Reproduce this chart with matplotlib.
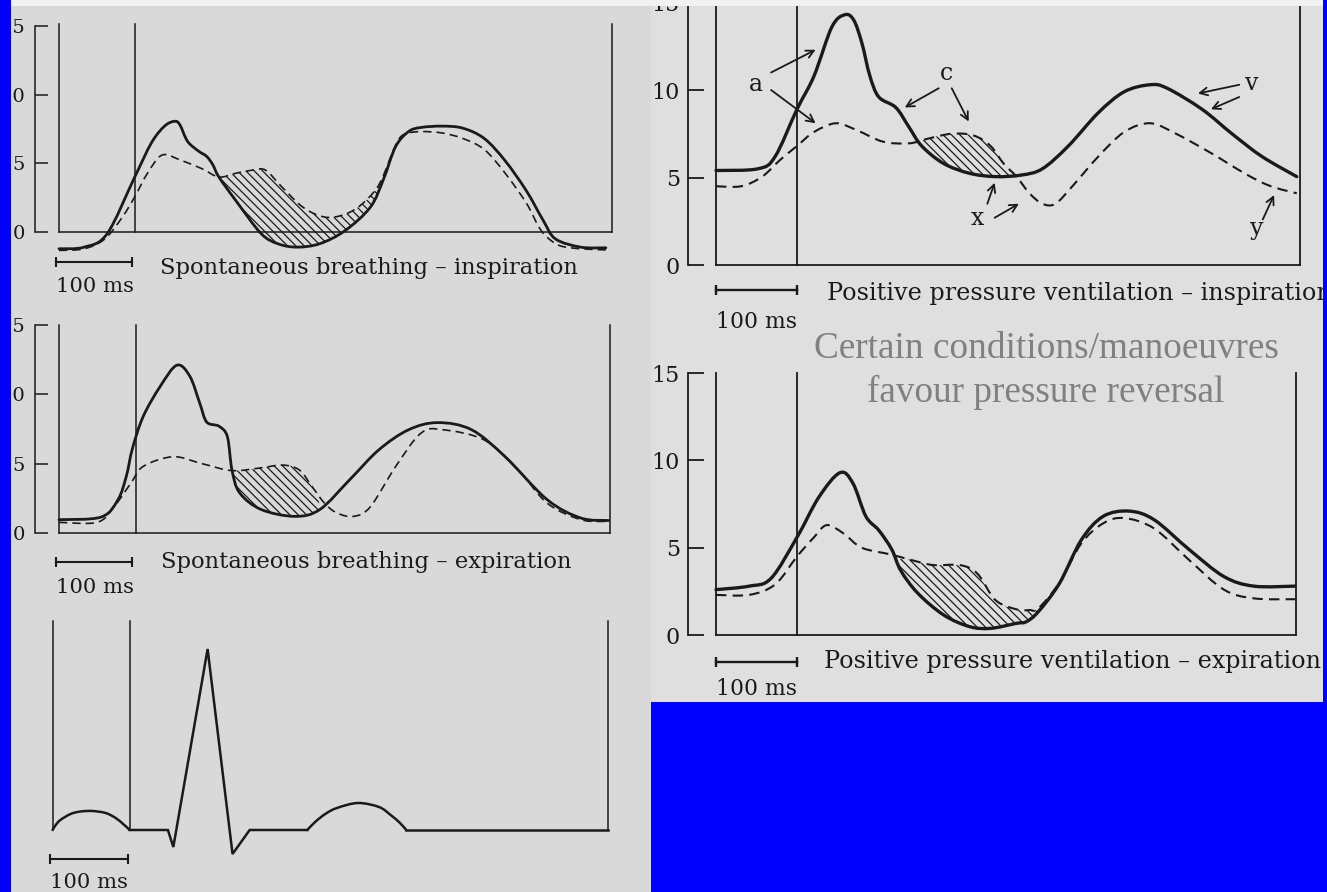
import numpy as np
import matplotlib
matplotlib.use("Agg")
import matplotlib.pyplot as plt
from matplotlib.patches import Rectangle, PathPatch
from matplotlib.path import Path

# ---------------- data (time in ms, pressure in mmHg) ----------------
# Spontaneous breathing - inspiration
sbi_solid_t = [0, 33, 63, 99, 121, 138, 151, 158, 168, 182, 193, 201, 209, 231, 264, 286, 311, 341,
               374, 407, 424, 440, 457, 473, 501, 528, 556, 583, 611, 633, 649, 682, 715]
sbi_solid_v = [-1.22, -1.1, -0.12, 4.0, 6.5, 7.7, 8.05, 7.8, 6.6, 5.9, 5.5, 4.9, 4.0, 2.3, -0.1, -0.85,
               -1.1, -0.85, 0.1, 1.8, 3.8, 6.2, 7.3, 7.6, 7.7, 7.55, 6.8, 5.2, 3.0, 0.85, -0.5, -1.1, -1.15]
sbi_dash_t = [0, 33, 60, 83, 99, 116, 135, 160, 187, 209, 231, 253, 270, 291, 319, 346, 369, 391, 413,
              424, 440, 451, 473, 501, 528, 556, 583, 611, 627, 638, 655, 682, 715]
sbi_dash_v = [-1.34, -1.22, -0.5, 1.1, 2.56, 4.3, 5.6, 5.2, 4.6, 4.0, 4.27, 4.5, 4.5, 3.3, 1.8, 1.1, 1.2,
              1.8, 3.0, 4.1, 6.3, 7.1, 7.3, 7.2, 6.8, 6.0, 4.3, 2.1, 0.4, -0.37, -1.0, -1.22, -1.3]
sbi_hatch = (209, 424)

# Spontaneous breathing - expiration
sbe_solid_t = [0, 55, 77, 88, 96, 110, 132, 154, 171, 184, 193, 209, 220, 226, 236, 264, 308, 341, 380,
               418, 457, 495, 539, 583, 638, 682, 718]
sbe_solid_v = [0.96, 1.15, 2.4, 4.1, 6.1, 8.4, 10.55, 12.1, 11.3, 9.35, 8.0, 7.7, 6.95, 4.55, 2.9, 1.7,
               1.2, 1.7, 3.85, 6.0, 7.45, 7.96, 7.45, 5.5, 2.4, 1.08, 0.9]
sbe_dash_t = [0, 50, 72, 94, 110, 149, 187, 226, 264, 292, 314, 330, 347, 363, 385, 407, 440, 473, 501,
              556, 600, 638, 682, 718]
sbe_dash_v = [0.77, 0.77, 1.9, 3.6, 4.8, 5.5, 5.0, 4.5, 4.7, 4.9, 4.55, 3.4, 2.15, 1.45, 1.2, 1.9, 4.8,
              7.2, 7.45, 6.7, 4.55, 2.15, 0.96, 0.84]
sbe_hatch = (226, 345)

# ECG (ms, arbitrary mV)
ecg_t = [0, 4, 10, 23, 36, 51, 68, 81, 92, 99, 148, 155, 199, 231, 253, 327, 337, 350, 365, 392, 419,
         434, 446, 454, 713]
ecg_v = [0, 0.05, 0.1, 0.16, 0.185, 0.19, 0.17, 0.12, 0.05, 0, 0, -0.17, 1.81, -0.24, 0, 0, 0.08, 0.16,
         0.22, 0.27, 0.23, 0.15, 0.07, 0, 0]
ecg_p_wave = (0, 10)     # index range of the P wave arc
ecg_t_wave = (15, 24)    # index range of the T wave arc

# Positive pressure ventilation - inspiration
ppi_solid_t = [0, 52, 73, 100, 121, 143, 159, 170, 180, 190, 201, 222, 238, 254, 281, 313, 345, 377, 403,
               435, 472, 504, 536, 557, 600, 637, 674, 717]
ppi_solid_v = [5.4, 5.5, 6.2, 8.9, 10.8, 13.6, 14.3, 14.0, 12.7, 10.8, 9.6, 9.0, 7.9, 6.8, 5.8, 5.24,
               5.05, 5.14, 5.5, 6.8, 8.7, 9.9, 10.3, 10.1, 8.9, 7.5, 6.2, 5.05]
ppi_dash_t = [0, 31, 57, 79, 100, 121, 148, 174, 206, 238, 260, 291, 318, 339, 355, 371, 387, 403, 419,
              440, 472, 504, 536, 568, 611, 654, 685, 717]
ppi_dash_v = [4.5, 4.5, 5.05, 6.0, 6.8, 7.6, 8.1, 7.7, 7.05, 6.95, 7.2, 7.5, 7.4, 6.8, 5.8, 5.05, 4.1,
              3.5, 3.5, 4.5, 6.2, 7.6, 8.1, 7.5, 6.4, 5.2, 4.5, 4.1]
ppi_hatch = (246, 371)

# Positive pressure ventilation - expiration
ppe_solid_t = [0, 41, 68, 100, 127, 153, 169, 185, 201, 217, 228, 249, 281, 313, 339, 371, 383, 398,
               424, 451, 478, 510, 541, 584, 627, 664, 715]
ppe_solid_v = [2.6, 2.8, 3.25, 5.6, 7.9, 9.3, 8.7, 6.8, 6.0, 4.9, 3.7, 2.4, 1.15, 0.48, 0.38, 0.67, 0.76,
               1.34, 2.96, 5.45, 6.8, 7.1, 6.6, 4.9, 3.35, 2.8, 2.8]
ppe_dash_t = [0, 41, 73, 100, 121, 137, 158, 180, 217, 249, 270, 302, 323, 345, 371, 387, 398, 424, 451,
              478, 504, 541, 584, 627, 664, 715]
ppe_dash_v = [2.3, 2.3, 2.9, 4.5, 5.6, 6.3, 5.8, 5.0, 4.6, 4.2, 4.0, 4.0, 3.5, 2.0, 1.47, 1.43, 1.53, 3.0,
              5.25, 6.4, 6.7, 6.1, 4.3, 2.6, 2.1, 2.05]
ppe_hatch = (222, 424)

y_ticks = [0, 5, 10, 15]
y_tick_labels = ["0", "5", "10", "15"]
scale_ms = 100

titles = ["Spontaneous breathing \u2013 inspiration",
          "Spontaneous breathing \u2013 expiration",
          "Positive pressure ventilation \u2013 inspiration",
          "Positive pressure ventilation \u2013 expiration"]
note_lines = ["Certain conditions/manoeuvres", "favour pressure reversal"]

# ---------------- styling ----------------
W, H, DPI = 1327, 892, 100
INK = "#1a1a1a"
BLUE = "#0000ff"
plt.rcParams["font.family"] = ["DejaVu Serif"]
plt.rcParams["hatch.linewidth"] = 0.9
plt.rcParams["hatch.color"] = INK

fig = plt.figure(figsize=(W / DPI, H / DPI), dpi=DPI, facecolor=BLUE)


def fx(x):
    return x / W


def fy(y):
    return 1 - y / H


def rect(x0, y0, x1, y1, color, z):
    fig.add_artist(Rectangle((fx(x0), fy(y1)), fx(x1) - fx(x0), fy(y0) - fy(y1),
                             transform=fig.transFigure, facecolor=color,
                             edgecolor="none", zorder=z))


# paper sheets
rect(11, 0, 651, 892, "#d9d9d9", -10)
rect(651, 0, 1323, 702, "#dfdfdf", -10)
# overlays (on top of everything)
rect(11, 0, 1323, 6, "#f2f2f2", 10)
rect(0, 0, 11, 892, BLUE, 11)
rect(1323, 0, 1327, 892, BLUE, 11)
rect(651, 702, 1327, 892, BLUE, 11)


def smooth_path(x, y):
    P = np.column_stack([x, y]).astype(float)
    n = len(P)
    verts = [P[0]]
    codes = [Path.MOVETO]
    for i in range(n - 1):
        p0 = P[i - 1] if i > 0 else P[i]
        p1, p2 = P[i], P[i + 1]
        p3 = P[i + 2] if i + 2 < n else P[i + 1]
        verts += [p1 + (p2 - p0) / 6.0, p2 - (p3 - p1) / 6.0, p2]
        codes += [Path.CURVE4] * 3
    return Path(np.array(verts), codes)


def flat(path):
    return path.to_polygons(closed_only=False)[0]


def make_axes(x0, x1, ytop, y0, unit, T):
    ax = fig.add_axes([fx(x0), fy(y0), fx(x1) - fx(x0), fy(ytop) - fy(y0)])
    ax.set_xlim(0, T)
    ax.set_ylim(0, (y0 - ytop) / unit)
    ax.patch.set_visible(False)
    ax.set_xticks([])
    return ax


def pressure_panel(x0, x1, ytop, y0, unit, T, spine_x, tick_px, fs, pad_px,
                   solid, dash, hatch, lw_s, lw_d, lw_f, dash_pat,
                   bar_y, bar_off, bar_ms):
    ax = make_axes(x0, x1, ytop, y0, unit, T)
    ax.spines["top"].set_visible(False)
    for s in ("right", "bottom", "left"):
        ax.spines[s].set_linewidth(lw_f)
        ax.spines[s].set_color(INK)
    ax.spines["left"].set_position(("outward", (x0 - spine_x) * 0.72))
    ax.spines["left"].set_bounds(0, 15)
    ax.set_yticks(y_ticks)
    ax.set_yticklabels(y_tick_labels)
    ax.tick_params(axis="y", direction="in", length=tick_px * 0.72, width=lw_f,
                   pad=pad_px * 0.72, labelsize=fs, colors=INK)
    ax.axvline(0, color=INK, lw=lw_f, clip_on=False)
    ax.axvline(scale_ms, color=INK, lw=lw_f, clip_on=False)
    ps = smooth_path(*solid)
    pd = smooth_path(*dash)
    # hatched region between the curves where dashed lies above solid
    fs_ = flat(ps)
    fd_ = flat(pd)
    a, b = hatch
    top = fd_[(fd_[:, 0] >= a) & (fd_[:, 0] <= b)]
    bot = fs_[(fs_[:, 0] >= a) & (fs_[:, 0] <= b)][::-1]
    poly = np.vstack([top, bot])
    ax.fill(poly[:, 0], poly[:, 1], facecolor="none", edgecolor=INK,
            hatch="\\\\\\\\", linewidth=0, clip_on=False)
    ax.add_patch(PathPatch(pd, facecolor="none", edgecolor=INK, lw=lw_d,
                           linestyle=(0, dash_pat), clip_on=False))
    ax.add_patch(PathPatch(ps, facecolor="none", edgecolor=INK, lw=lw_s,
                           capstyle="round", joinstyle="round", clip_on=False))
    vb = (y0 - bar_y) / unit
    ax.plot([bar_off, bar_off + bar_ms], [vb, vb], color=INK, lw=lw_f + 0.4,
            marker="|", ms=7.5, mew=lw_f + 0.4, clip_on=False)
    return ax


# Panel 1: spontaneous inspiration
ax1 = pressure_panel(59, 612, 24, 232, 13.75, 723, 35, 13, 14, 10,
                     (sbi_solid_t, sbi_solid_v), (sbi_dash_t, sbi_dash_v), sbi_hatch,
                     2.0, 1.2, 1.1, (5, 3), 262, -4, scale_ms)
# Panel 2: spontaneous expiration
ax2 = pressure_panel(59, 610, 325, 533, 13.9, 720, 35, 13, 14, 10,
                     (sbe_solid_t, sbe_solid_v), (sbe_dash_t, sbe_dash_v), sbe_hatch,
                     2.0, 1.2, 1.1, (5, 3), 562, -4, scale_ms)
# Panel 4: PPV inspiration
ax4 = pressure_panel(716, 1300, -2, 265, 17.5, 721, 688, 16, 16, 8,
                     (ppi_solid_t, ppi_solid_v), (ppi_dash_t, ppi_dash_v), ppi_hatch,
                     2.4, 1.5, 1.3, (5, 3), 290, 0, scale_ms)
# Panel 5: PPV expiration
ax5 = pressure_panel(716, 1296, 373, 635, 17.45, 716, 688, 16, 16, 8,
                     (ppe_solid_t, ppe_solid_v), (ppe_dash_t, ppe_dash_v), ppe_hatch,
                     2.4, 1.5, 1.3, (5, 3), 662, 0, scale_ms)

# Panel 3: ECG
ax3 = make_axes(52.6, 608, 621, 830, 100, 713)
ax3.set_yticks([])
for s in ("top", "bottom"):
    ax3.spines[s].set_visible(False)
for s in ("left", "right"):
    ax3.spines[s].set_linewidth(1.1)
    ax3.spines[s].set_color(INK)
ax3.axvline(scale_ms, color=INK, lw=1.1, clip_on=False)
et = np.array(ecg_t, float)
ev = np.array(ecg_v, float)
pa, pb = ecg_p_wave
ta, tb = ecg_t_wave
for a, b in (ecg_p_wave, ecg_t_wave):
    ax3.add_patch(PathPatch(smooth_path(et[a:b], ev[a:b]), facecolor="none", edgecolor=INK,
                            lw=1.8, clip_on=False, capstyle="round"))
ax3.plot(et[pb - 1:ta + 1], ev[pb - 1:ta + 1], color=INK, lw=1.8, clip_on=False,
         solid_joinstyle="miter")
ax3.plot(et[tb - 1:], ev[tb - 1:], color=INK, lw=1.8, clip_on=False)
ax3.plot([-3, -3 + scale_ms], [(830 - 859) / 100] * 2, color=INK, lw=1.5, marker="|",
         ms=7.5, mew=1.5, clip_on=False)

# ---------------- texts ----------------
renderer = fig.canvas.get_renderer()


def ftext(x, y, s, width=None, size=14, **kw):
    t = fig.text(fx(x), fy(y), s, fontsize=size, color=kw.pop("color", INK),
                 va=kw.pop("va", "baseline"), **kw)
    if width is not None:
        bb = t.get_window_extent(renderer=renderer)
        t.set_fontsize(size * width / bb.width)
    return t


t1 = ftext(160, 274, titles[0], width=419)
ftext(161, 568, titles[1], size=t1.get_fontsize())
t5 = ftext(824, 668, titles[3], width=498)
ftext(827, 300, titles[2], size=t5.get_fontsize())

m1 = ftext(56, 292, "100 ms", width=78)
ftext(56, 593, "100 ms", size=m1.get_fontsize())
ftext(50, 888, "100 ms", size=m1.get_fontsize())
m4 = ftext(716, 328, "100 ms", width=81)
ftext(716, 695, "100 ms", size=m4.get_fontsize())

n1 = ftext(1046, 358, note_lines[0], width=467, ha="center", color="#808080",
           family=["Liberation Serif"])
ftext(1046, 402, note_lines[1], size=n1.get_fontsize(), ha="center", color="#808080",
      family=["Liberation Serif"])

# ---------------- wave labels on PPV inspiration ----------------
labels = [("a", 49, 9.94), ("c", 284, 10.57), ("v", 662, 10.0), ("x", 323, 2.29), ("y", 668, 1.71)]
for s, tt, vv in labels:
    ax4.text(tt, vv, s, ha="center", va="baseline", fontsize=17, color=INK, clip_on=False)

arrows = [((68, 11.0), (123, 12.3)), ((68, 10.0), (123, 8.1)),
          ((275, 10.1), (233, 9.0)), ((291, 10.1), (312, 8.2)),
          ((646, 10.3), (595, 9.8)), ((646, 9.6), (611, 8.9)),
          ((335, 3.5), (344, 4.7)), ((344, 2.7), (374, 3.5)),
          ((675, 2.6), (689, 4.0))]
for tail, head in arrows:
    ax4.annotate("", xy=head, xytext=tail, annotation_clip=False,
                 arrowprops=dict(arrowstyle="->,head_length=0.55,head_width=0.28",
                                 lw=1.3, color=INK, shrinkA=0, shrinkB=0))

fig.savefig("out.png", dpi=DPI, facecolor=BLUE)
